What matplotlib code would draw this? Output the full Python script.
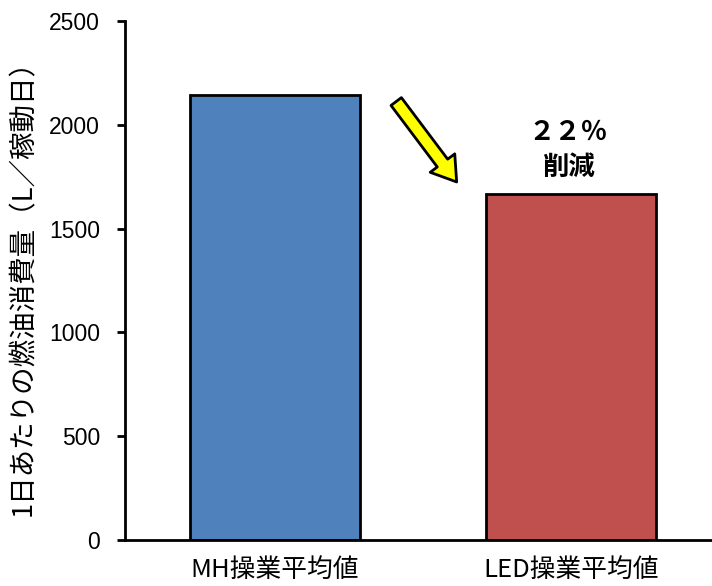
import matplotlib.pyplot as plt
import numpy as np

plt.rcParams['font.family'] = ['Noto Sans CJK JP', 'DejaVu Sans']

# data
categories = ['MH操業平均値', 'LED操業平均値']
values = [2145, 1665]
colors = ['#4F81BD', '#C0504D']
yticks = [0, 500, 1000, 1500, 2000, 2500]

fig = plt.figure(figsize=(7.12, 5.86), dpi=100)
ax = fig.add_axes([0.1756, 0.0785, 0.8244, 0.8855])

x = np.arange(len(categories))
ax.bar(x, values, width=0.574, color=colors, edgecolor='black', linewidth=2, zorder=2)

ax.set_xlim(-0.507, 1.476)
ax.set_ylim(0, 2500)
ax.set_yticks(yticks)
ax.set_xticks(x)
ax.set_xticklabels(categories, fontsize=18.5)
ax.tick_params(axis='y', length=6, width=2, direction='out', pad=12)
for lab in ax.get_yticklabels():
    lab.set_fontfamily(['Liberation Sans', 'DejaVu Sans'])
    lab.set_fontsize(16.5)
ax.tick_params(axis='x', length=0, pad=12)

for s in ['top', 'right']:
    ax.spines[s].set_visible(False)
ax.spines['left'].set_linewidth(2)
ax.spines['bottom'].set_linewidth(2)

ax.set_ylabel('1日あたりの燃油消費量（L／稼動日）', fontsize=19.8, labelpad=9)

# arrow + note
ax.annotate('', xy=(0.565, 0.69), xytext=(0.462, 0.845), xycoords='axes fraction',
            arrowprops=dict(arrowstyle='simple,head_length=1.0,head_width=1.3,tail_width=0.55',
                            facecolor='#FFFF00', edgecolor='black', linewidth=2,
                            mutation_scale=17, shrinkA=0, shrinkB=0))
ax.text(0.99, 1880, '２２％\n削減', ha='center', va='center', fontsize=19,
        fontweight='bold', linespacing=1.4)

plt.savefig('out.png', dpi=100)
